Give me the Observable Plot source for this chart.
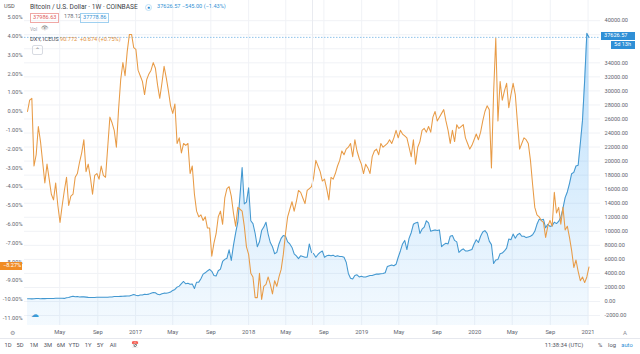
<!DOCTYPE html>
<html><head><meta charset="utf-8">
<script src="https://cdn.jsdelivr.net/npm/d3@7"></script>
<script src="https://cdn.jsdelivr.net/npm/@observablehq/plot@0.6"></script>
<style>
body{margin:0;background:#fff;font-family:Roboto,"Liberation Sans",sans-serif;}
#wrap{position:relative;width:640px;height:354px;overflow:hidden;background:#fff;}
.t{position:absolute;white-space:nowrap;line-height:1;}
#bar{position:absolute;left:0;top:338px;width:640px;height:16px;border-top:1px solid #e6e8ee;}
</style></head><body><div id="wrap"></div>
<script>
// ---- data (weekly bars) ----
const firstWeek = "2016-01-18";
const lastWeek = "2021-01-04";
// DXY (ICEUS), % change from first bar
const dxyPct = [
 0, 0.6, 0.7, -2.9, -2.3, -0.8, -1.6, -2.7, -3.8, -2.8,
 -3.6, -4.4, -4.7, -3.8, -5.0, -5.9, -5.0, -4.2, -3.5, -5.0,
 -4.5, -4.4, -3.5, -3.3, -2.7, -2.2, -1.5, -3.2, -2.8, -3.5,
 -4.4, -3.4, -3.3, -3.6, -2.9, -3.4, -3.5, -1.9, -0.3, -0.6,
 -1.0, -1.9, 0.1, 1.7, 2.6, 1.9, 3.2, 4.1, 4.1, 3.4,
 3.3, 2.2, 1.9, 1.6, 0.9, 1.7, 2.0, 2.2, 2.6, 2.3,
 1.4, 0.7, 1.5, 2.4, 1.8, 1.1, 0.3, -0.1, 0.4, -1.7,
 -1.4, -2.2, -1.7, -1.8, -1.7, -3.3, -2.9, -4.4, -5.3, -5.6,
 -5.5, -5.8, -5.6, -6.2, -6.2, -7.7, -7.0, -6.5, -5.6, -5.3,
 -6.0, -4.6, -4.1, -4.0, -4.5, -5.4, -6.1, -5.1, -5.2, -5.3,
 -6.1, -7.2, -7.6, -8.6, -8.8, -9.9, -9.9, -8.6, -10.0, -9.3,
 -9.2, -8.8, -9.2, -9.7, -9.0, -9.3, -8.8, -8.4, -7.6, -6.5,
 -5.6, -5.2, -4.8, -5.3, -4.8, -4.2, -4.3, -4.6, -4.9, -4.2,
 -4.1, -4.0, -3.5, -2.6, -2.9, -3.2, -3.7, -3.6, -4.1, -4.7,
 -3.5, -3.6, -3.3, -2.9, -2.6, -2.1, -2.3, -2.0, -1.9, -1.7,
 -2.4, -1.5, -2.1, -2.5, -2.8, -3.3, -2.8, -3.0, -3.3, -2.4,
 -2.1, -2.0, -2.3, -1.7, -1.9, -1.8, -1.7, -1.5, -1.7, -1.4,
 -1.0, -1.4, -1.0, -1.2, -1.3, -1.4, -1.9, -2.4, -1.5, -2.8,
 -1.9, -1.6, -1.0, -0.9, -1.1, -0.8, -1.1, -0.3, 0.0, -0.5,
 -0.3, -0.1, 0.1, -0.5, -1.0, -1.7, -1.0, -1.6, -0.7, -0.9,
 -0.8, -0.7, -1.4, -1.7, -2.0, -1.8, -1.5, -1.2, -1.5, -1.1,
 -0.5, 0.0, 0.3, 0.1, -3.0, 1.0, 3.9, -0.5, 1.6, 0.6,
 1.1, 1.5, 0.2, 0.9, 1.5, 0.9, -0.6, -2.0, -1.7, -1.4,
 -1.5, -1.7, -2.6, -3.9, -5.1, -5.5, -5.6, -5.8, -5.9, -6.7,
 -6.1, -5.8, -6.1, -4.3, -5.4, -5.1, -6.0, -5.1, -6.3, -6.1,
 -6.7, -7.4, -8.3, -7.9, -8.5, -9.0, -8.8, -9.1, -8.8, -8.27
];
// BTC/USD weekly close
const btcUsd = [
 395, 378, 376, 382, 438, 432, 396, 413, 410, 416,
 419, 421, 428, 450, 455, 460, 456, 443, 530, 580,
 685, 760, 670, 700, 650, 665, 660, 624, 590, 570,
 580, 578, 608, 606, 608, 603, 612, 617, 640, 655,
 700, 705, 702, 730, 735, 765, 778, 790, 890, 1000,
 905, 820, 920, 915, 1025, 1000, 1050, 1180, 1270, 1240,
 1020, 975, 1090, 1190, 1180, 1240, 1350, 1580, 1720, 2050,
 2190, 2540, 2850, 2520, 2590, 2450, 2500, 1850, 2750, 2760,
 3230, 3900, 4090, 4350, 4580, 4300, 3700, 3630, 4380, 4610,
 5700, 6000, 6150, 7360, 5860, 8000, 9750, 11300, 15000, 19100,
 13900, 14150, 16200, 11500, 11100, 9700, 7800, 8500, 10100, 10600,
 11300, 9600, 8400, 7800, 6800, 7000, 8200, 9000, 9400, 9300,
 8500, 8200, 7700, 6800, 6500, 6100, 6500, 6400, 6300, 6300,
 8200, 7000, 6800, 6300, 6700, 7000, 7200, 6300, 6500, 6600,
 6500, 6600, 6400, 6500, 6400, 6400, 6300, 5600, 4000, 3300,
 3200, 3700, 3800, 3500, 3600, 3500, 3500, 3600, 3700, 3700,
 3800, 3900, 3900, 3950, 4000, 4100, 5000, 5100, 5200, 5100,
 5300, 6300, 7200, 8200, 8700, 7400, 9000, 9800, 11000, 11200,
 11300, 9700, 10300, 10600, 11500, 11200, 10000, 10100, 10200, 10100,
 10200, 7800, 8100, 8300, 8200, 9300, 9400, 8700, 8500, 7000,
 7300, 7500, 7200, 7200, 7300, 7400, 8200, 8800, 8400, 9300,
 9900, 10100, 9700, 8600, 8100, 5400, 5900, 6000, 6800, 6900,
 7200, 7600, 8900, 8800, 9600, 9000, 9500, 9700, 9300, 9300,
 9100, 9200, 9300, 9500, 10000, 11000, 11700, 11600, 11700, 10500,
 11000, 10700, 10800, 11300, 11100, 11400, 12000, 13300, 14800, 15600,
 16800, 18200, 18400, 19300, 19400, 22500, 25800, 31500, 38200, 37626.57
];
// grid levels (every 2000) and the right-axis labels that are visible (36000/38000 sit under the price tags)
const usdGrid = [-2000, 0, 2000, 4000, 6000, 8000, 10000, 12000, 14000, 16000, 18000, 20000,
  22000, 24000, 26000, 28000, 30000, 32000, 34000, 36000, 38000, 40000];
const usdTicks = [-2000, 0, 2000, 4000, 6000, 8000, 10000, 12000, 14000, 16000, 18000, 20000,
  22000, 24000, 26000, 28000, 30000, 32000, 34000, 40000];
const pctTicks = [5, 4, 3, 2, 1, 0, -1, -2, -3, -4, -5, -6, -7, -8, -9, -10, -11];
const xTickDates = ["2016-05-01","2016-09-01","2017-01-01","2017-05-01","2017-09-01","2018-01-01",
  "2018-05-01","2018-09-01","2019-01-01","2019-05-01","2019-09-01","2020-01-01","2020-05-01",
  "2020-09-01","2021-01-01"];
const xTickLabels = ["May","Sep","2017","May","Sep","2018","May","Sep","2019","May","Sep","2020","May","Sep","2021"];
const lastPrice = 37626.57, lastPct = -8.27;

// ---- build ----
const weeks = d3.utcMonday.range(new Date(firstWeek), d3.utcDay.offset(new Date(lastWeek), 1));
const rows = weeks.map((d, i) => ({date: d, btc: btcUsd[i], dxy: dxyPct[i]}));
const xt = xTickDates.map((d, i) => ({date: new Date(d), label: xTickLabels[i]}));

// secondary (percent) scale expressed on the USD scale
const Y0 = 301, YTOP = 20.2, PX_PER_PCT = 18.8, PCT0_Y = 111;
const usdPerPx = 40000 / (Y0 - YTOP);
const pctToUsd = p => (Y0 - (PCT0_Y - PX_PER_PCT * p)) * usdPerPx;
const bottomUsd = (Y0 - 325) * usdPerPx;

const BLUE = "#4398d0", ORANGE = "#e89b46", GRID = "#f0f2f6", TXT = "#62656f";

const defs = () => {
  const d = d3.create("svg:defs");
  const g = d.append("linearGradient").attr("id", "btcGrad").attr("x1", 0).attr("y1", 0).attr("x2", 0).attr("y2", 1);
  g.append("stop").attr("offset", "0%").attr("stop-color", "rgba(33,150,243,0.30)");
  g.append("stop").attr("offset", "100%").attr("stop-color", "rgba(33,150,243,0.05)");
  return d.node();
};

const chart = Plot.plot({
  width: 640, height: 338,
  marginLeft: 24, marginRight: 40, marginTop: 0, marginBottom: 13,
  style: {fontFamily: "Roboto, sans-serif", background: "transparent", overflow: "visible"},
  x: {type: "utc", domain: [new Date(firstWeek), new Date(lastWeek)], range: [27, 588.5], axis: null},
  y: {domain: [0, 40000], range: [Y0, YTOP], axis: null},
  marks: [
    defs,
    Plot.ruleY(usdGrid, {stroke: GRID, strokeWidth: 1}),
    Plot.ruleX(xt, {x: "date", stroke: GRID, strokeWidth: 1}),
    Plot.areaY(rows, {x: "date", y1: bottomUsd, y2: "btc", fill: "url(#btcGrad)", curve: "linear"}),
    Plot.ruleY([lastPrice], {stroke: "#8fc3ea", strokeWidth: 1, strokeDasharray: "1.5,1.5"}),
    Plot.line(rows, {x: "date", y: "btc", stroke: BLUE, strokeWidth: 1.05}),
    Plot.line(rows, {x: "date", y: d => pctToUsd(d.dxy), stroke: ORANGE, strokeWidth: 1.05}),
    // frame separators
    Plot.ruleX([0], {frameAnchor: "right", x: null, stroke: "#e9ebf0"}),
    Plot.ruleY([bottomUsd], {x1: 0, x2: 640, stroke: "#e3e5ea"}),
    // right axis
    Plot.text(usdTicks, {y: d => d, text: d => d.toFixed(2), frameAnchor: "right", textAnchor: "start", dx: 4, fontSize: 5.6, fill: TXT}),
    // left axis
    Plot.text(pctTicks, {y: d => pctToUsd(d), text: d => d.toFixed(2) + "%", frameAnchor: "left", textAnchor: "end", dx: -2, fontSize: 5.6, fill: TXT}),
    // x axis
    Plot.text(xt, {x: "date", text: "label", frameAnchor: "bottom", dy: 8, fontSize: 5.8, fill: TXT})
  ]
});

const wrap = document.getElementById("wrap");
wrap.appendChild(chart);

if (dxyPct.length !== 260 || btcUsd.length !== 260) {
  const e = document.createElement("div"); e.className = "t";
  e.style.cssText = "left:200px;top:150px;font-size:20px;color:red";
  e.textContent = "LEN " + dxyPct.length + " " + btcUsd.length; wrap.appendChild(e);
}

function put(html, css) {
  const e = document.createElement("div"); e.className = "t";
  e.style.cssText = css; e.innerHTML = html; wrap.appendChild(e); return e;
}
// legend / header
put("USD", "left:4px;top:4px;font-size:5.6px;color:#555");
put("Bitcoin / U.S. Dollar · 1W · COINBASE", "left:30px;top:3.5px;font-size:6.6px;color:#3a3d46");
put("●", "left:145px;top:3.5px;font-size:5px;color:#2a8ad0;border:1px solid #bfe0f5;border-radius:4px;padding:0 1px");
put("37626.57 −545.00 (−1.43%)", "left:157px;top:4px;font-size:5.6px;color:#3593d5");
put("37986.63", "left:30px;top:13px;font-size:5.6px;color:#e0605c;border:1px solid #f0a8a5;padding:1px 2px");
put("178.12", "left:64px;top:14px;font-size:5.6px;color:#6a6d78");
put("37778.86", "left:80px;top:13px;font-size:5.6px;color:#3593d5;border:1px solid #9fd0f0;padding:1px 2px");
put("Vol", "left:30px;top:27px;font-size:5px;color:#a0a3ad");
put("👁", "left:41px;top:25px;font-size:6px;color:#777");
put("DXY, ICEUS", "left:30px;top:36.5px;font-size:5.8px;color:#4a4d57");
put("90.772 &nbsp;+0.674 (+0.75%)", "left:60px;top:36.5px;font-size:5.6px;color:#e2903a");
put("⌃", "left:32px;top:45px;font-size:6px;color:#777;border:1px solid #d8dbe2;padding:1px 2px;border-radius:2px");
put("☁", "left:31px;top:311px;font-size:8px;color:#3d9bd6");
// price tags
put("37626.57", "left:601px;top:32px;font-size:5.6px;color:#fff;background:#2f8fd6;padding:1.2px 3px;width:28px");
put("5d 13h", "left:611px;top:41px;font-size:5.6px;color:#fff;background:#2f8fd6;padding:1.2px 3px;width:18px");
put("−8.27%", "left:0px;top:261.5px;font-size:5.6px;color:#fff;background:#f08c25;padding:1.5px 3px;width:16px");
// axis corner items
put("⚙", "left:10px;top:330px;font-size:6px;color:#8a8d96");
put("A", "left:623px;top:330px;font-size:6px;color:#8a8d96");
// bottom toolbar
const bar = document.createElement("div"); bar.id = "bar"; wrap.appendChild(bar);
const ranges = [["1D",8],["5D",20],["1M",34],["3M",48],["6M",61],["YTD",74],["1Y",88],["5Y",100],["All",113]];
ranges.forEach(([t, x]) => put(t, `left:${x}px;top:342.5px;font-size:5.8px;color:#50535e;transform:translateX(-50%)`));
put("📅", `left:131px;top:341.5px;font-size:6.5px;color:#777`);
put("11:38:34 (UTC)", "left:564px;top:342.5px;font-size:5.8px;color:#50535e;transform:translateX(-50%)");
put("%", "left:600px;top:342.5px;font-size:5.8px;color:#50535e;transform:translateX(-50%)");
put("log", "left:612px;top:342.5px;font-size:5.8px;color:#50535e;transform:translateX(-50%)");
put("auto", "left:627px;top:342.5px;font-size:5.8px;color:#2f8fd6;transform:translateX(-50%)");
</script></body></html>
